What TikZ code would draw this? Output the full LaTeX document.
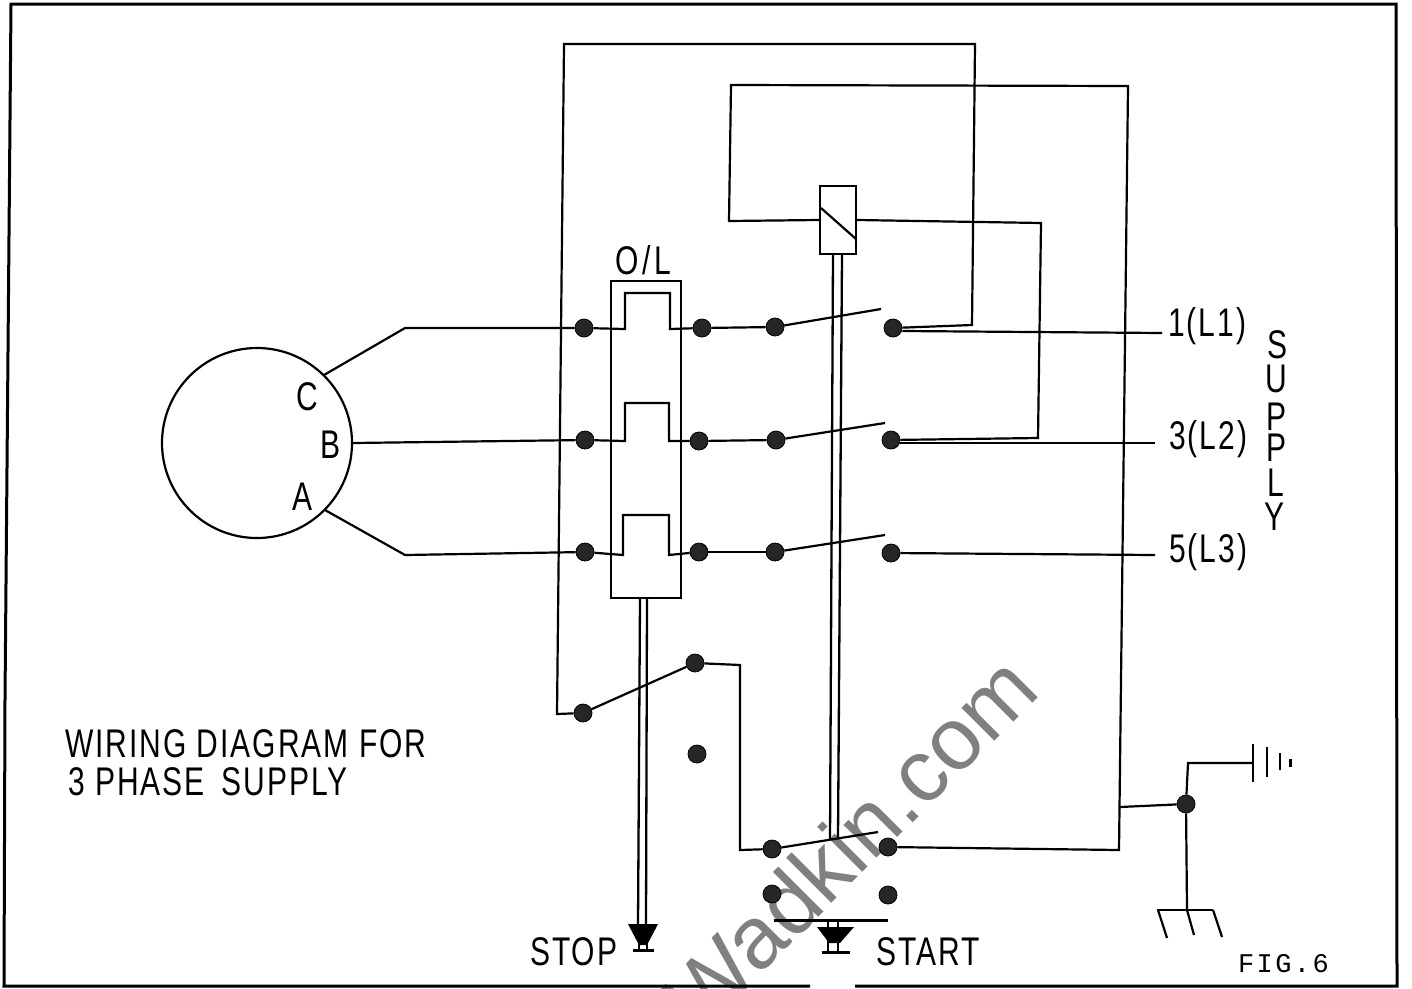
\documentclass[tikz,border=0pt]{standalone}
\usepackage{fontspec}
\setmainfont{Liberation Sans}[FakeStretch=0.75, LetterSpace=5]
\newfontfamily\markfont{Liberation Sans}
\newfontfamily\figfont{Liberation Mono}[LetterSpace=9]
\usepackage{tikz}
\begin{document}
\begin{tikzpicture}[x=1pt, y=-1pt, line width=2.2pt, line join=miter,
    dot/.style = {circle, fill=black!85, draw=black, line width=0.8pt, inner sep=0pt, minimum size=18pt},
    txt/.style = {inner sep=0pt, anchor=base west, font=\fontsize{40}{40}\selectfont},
    rod/.style = {line width=2.3pt},
    thick wire/.style = {line width=3pt}]
    \useasboundingbox (0,0) rectangle (1412,988);
    % site mark
    \begin{scope}
        \clip (0,0) rectangle (1412,988);
        \node[inner sep=0pt, text=black!50, rotate=45, font=\markfont\fontsize{88}{88}\selectfont] (mark) at (850,841) {Wadkin.com};
    \end{scope}
    % frame
    \draw[thick wire] (810,986) -- (4,986) -- (5,700) -- (11,4) -- (1396,4) -- (1397,986) -- (855,986);
    % motor
    \node[draw, circle, inner sep=0pt, minimum size=190pt] (motor) at (257,443) {};
    \node[txt, anchor=center] (phC) at (307,397) {C};
    \node[txt, anchor=center] (phB) at (330,445) {B};
    \node[txt, anchor=center] (phA) at (303,497) {A};
    % terminals
    \node[dot] (in1) at (584,328) {};
    \node[dot] (in2) at (585,440) {};
    \node[dot] (in3) at (585,552) {};
    \node[dot] (ol1) at (702,328) {};
    \node[dot] (ol2) at (699,441) {};
    \node[dot] (ol3) at (699,552) {};
    \node[dot] (sw1) at (775,327) {};
    \node[dot] (sw2) at (776,440) {};
    \node[dot] (sw3) at (775,552) {};
    \node[dot] (ln1) at (893,328) {};
    \node[dot] (ln2) at (891,440) {};
    \node[dot] (ln3) at (891,553) {};
    \node[dot] (stopa) at (583,713) {};
    \node[dot] (stopb) at (695,663) {};
    \node[dot] (stopc) at (697,754) {};
    \node[dot] (starta) at (772,849) {};
    \node[dot] (startb) at (888,847) {};
    \node[dot] (startc) at (772,894) {};
    \node[dot] (startd) at (888,895) {};
    \node[dot] (earth) at (1186,804) {};
    % supply ends
    \coordinate (sup1) at (1162,333);
    \coordinate (sup2) at (1155,443);
    \coordinate (sup3) at (1155,555);
    % motor leads
    \draw (324,375) -- (405,328) -- (in1);
    \draw (motor.east) -- (in2);
    \draw (325,510) -- (405,555) -- (in3);
    % overload box
    \draw (611,281) rectangle (681,598);
    \draw (in1) -- (625,329) -- (625,293) -- (670,293) -- (670,329) -- (ol1);
    \draw (in2) -- (625,441) -- (625,403) -- (669,403) -- (669,441) -- (ol2);
    \draw (in3) -- (623,555) -- (623,515) -- (669,515) -- (669,555) -- (ol3);
    \node[txt] (ol) at (614,274) {O\hspace{4pt}/\hspace{4pt}L};
    \draw (ol1) -- (sw1);
    \draw (ol2) -- (sw2);
    \draw (ol3) -- (sw3);
    % contacts
    \coordinate (bl1) at (881,309);
    \coordinate (bl2) at (885,423);
    \coordinate (bl3) at (885,535);
    \coordinate (bl4) at (878,832);
    \draw (sw1) -- (bl1);
    \draw (sw2) -- (bl2);
    \draw (sw3) -- (bl3);
    \draw (starta) -- (bl4);
    \draw (stopa) -- (stopb);
    % relay
    \node[draw, inner sep=0pt, minimum width=36pt, minimum height=68pt] (relay) at (838,220) {};
    \draw (821,208) -- (856,239);
    \draw[rod] (833,254) -- (830,840);
    \draw[rod] (842,254) -- (838,838);
    \draw (relay.west) -- (729,221) -- (731,85) -- (1128,86) -- (1119,850) -- (startb);
    \draw (relay.east) -- (1041,223) -- (1038,438) -- (ln2);
    \draw (stopa) -- (557,714) -- (564,44) -- (975,44) -- (972,325) -- (ln1);
    \draw (stopb) -- (740,665) -- (740,850) -- (starta);
    \draw (ln1.east) ++(0,3) -- (sup1);
    \draw (ln2.east) ++(0,3) -- (sup2);
    \draw (ln3) -- (sup3);
    % stop button
    \draw[rod] (640,598) -- (638,924);
    \draw[rod] (647,598) -- (646,924);
    \fill (628,924) -- (658,924) -- (647,945) -- (639,945) -- cycle;
    \draw (639,940) -- (639,950);
    \draw (647,940) -- (647,950);
    \draw[thick wire] (633,950) -- (654,950);
    % start button
    \draw[thick wire] (774,920) -- (888,920);
    \fill (817,927) -- (854,927) -- (840,943) -- (829,943) -- cycle;
    \draw (828,920) -- (828,952);
    \draw (838,920) -- (838,952);
    \draw[thick wire] (822,952) -- (850,952);
    % earth and ground
    \coordinate (tap) at (1120,807);
    \coordinate (cell) at (1253,763);
    \coordinate (gnd) at (1187,910);
    \draw (tap) -- (earth);
    \draw (earth) -- (1188,763) -- (cell);
    \draw (earth) -- (gnd);
    \draw (1253,744) -- (1253,782);
    \draw (1267,747) -- (1267,777);
    \draw (1280,753) -- (1280,770);
    \draw[thick wire] (1290,759) -- (1290,767);
    \draw (1157,910) -- (1213,910);
    \draw (1158,910) -- (1167,938);
    \draw (gnd) -- (1194,935);
    \draw (1213,910) -- (1222,937);
    % labels
    \node[txt] (l1) at (1167,336) {1(L1)};
    \node[txt] (l2) at (1168,449) {3(L2)};
    \node[txt] (l3) at (1168,562) {5(L3)};
    \node[txt, anchor=center] (s1) at (1277,345) {S};
    \node[txt, anchor=center] (s2) at (1276,379) {U};
    \node[txt, anchor=center] (s3) at (1276,417) {P};
    \node[txt, anchor=center] (s4) at (1276,448) {P};
    \node[txt, anchor=center] (s5) at (1276,483) {L};
    \node[txt, anchor=center] (s6) at (1274,517) {Y};
    \node[txt] (title1) at (64,757) {WIRING\hspace{10pt}DIAGRAM FOR};
    \node[txt] (title2) at (67,795) {3 PHASE\hspace{17pt}SUPPLY};
    \node[txt] (stop) at (529,965) {STOP};
    \node[txt] (start) at (875,965) {START};
    \node[txt, font=\figfont\fontsize{27}{27}\selectfont] (fig) at (1237,972) {FIG.6};
\end{tikzpicture}
\end{document}
